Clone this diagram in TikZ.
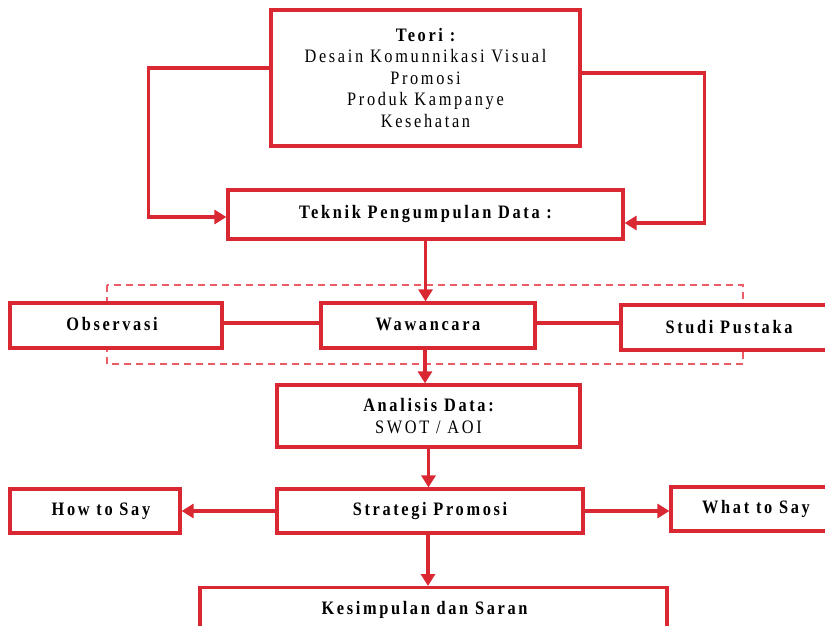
\documentclass[tikz,border=0pt]{standalone}
\usepackage{fontspec}
\setmainfont{Liberation Serif}[LetterSpace=14,FakeStretch=0.86]
\usetikzlibrary{arrows.meta}
\definecolor{bred}{HTML}{DA2832}
\definecolor{lred}{HTML}{EC5C66}
\begin{document}
\begin{tikzpicture}[x=1pt,y=-1pt,
  box/.style={draw=bred,line width=3.2pt,fill=white,inner sep=0pt,align=center,
    font=\fontsize{19}{21.5}\selectfont\bfseries},
  conn/.style={draw=bred,line width=3.2pt},
  arr/.style={conn,-{Triangle[length=12pt,width=14pt]}}]
\useasboundingbox (0,0) rectangle (825,626);
\draw[lred,line width=1.3pt,dash pattern=on 7pt off 5pt] (107,285) rectangle (743,364);
\node[box,minimum width=309pt,minimum height=136pt] (teori) at (425.5,78)
  {Teori :\\\mdseries Desain Komunnikasi Visual\\\mdseries Promosi\\\mdseries Produk Kampanye\\\mdseries Kesehatan};
\node[box,minimum width=395pt,minimum height=49pt] (teknik) at (425.5,214.5) {\raisebox{2pt}{Teknik Pengumpulan Data :}};
\node[box,minimum width=212pt,minimum height=45pt] (obs) at (116,325.5) {\raisebox{4pt}{Observasi}\hspace*{8pt}};
\node[box,minimum width=214pt,minimum height=45pt] (waw) at (428,325.5) {\raisebox{2pt}{Wawancara}};
\node[box,minimum width=250pt,minimum height=45pt] (studi) at (746,327.5) {Studi Pustaka\hspace*{34pt}};
\node[box,minimum width=303pt,minimum height=62pt] (anal) at (428.5,416) {Analisis Data:\\\mdseries SWOT / AOI};
\node[box,minimum width=306pt,minimum height=44pt] (strat) at (430,511) {\raisebox{2pt}{Strategi Promosi}};
\node[box,minimum width=170pt,minimum height=44pt] (how) at (95,511) {\hspace*{12pt}How to Say};
\node[box,minimum width=170pt,minimum height=44pt] (what) at (756,509) {\raisebox{2pt}{What to Say}};
\node[box,minimum width=467pt,minimum height=44pt,anchor=north] (kes) at (433.5,586) {Kesimpulan dan Saran\hspace*{18pt}};
% connectors
\draw[arr] ([yshift=10pt]teori.west) -- ++(-121,0) |- ([yshift=-2.5pt]teknik.west);
\draw[arr] ([yshift=5pt]teori.east) -- ++(123,0) |- ([yshift=-8.5pt]teknik.east);
\draw[arr] (teknik.south) -- (teknik.south |- waw.north);
\draw[conn] ([yshift=2.5pt]obs.east) -- ([yshift=2.5pt]waw.west);
\draw[conn] ([yshift=2.5pt]waw.east) -- ([yshift=4.5pt]studi.west);
\draw[arr] ([xshift=-3pt]waw.south) -- ([xshift=-3pt]waw.south |- anal.north);
\draw[arr] (anal.south) -- (anal.south |- strat.north);
\draw[arr] (strat.west) -- (how.east);
\draw[arr] (strat.east) -- (strat.east -| what.west);
\draw[arr] ([xshift=-2pt]strat.south) -- ([xshift=-2pt]strat.south |- kes.north);
\end{tikzpicture}
\end{document}
